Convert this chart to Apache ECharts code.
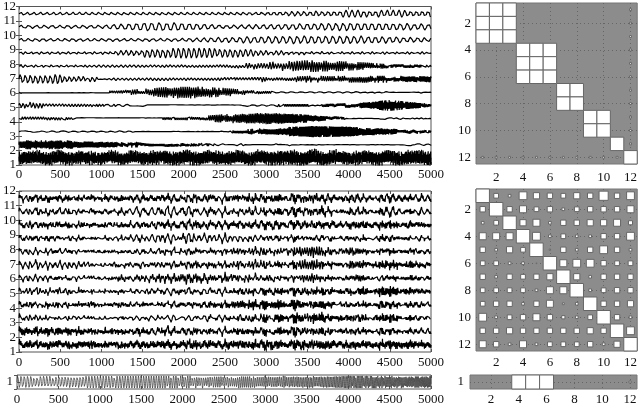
<!DOCTYPE html>
<html>
<head>
<meta charset="utf-8">
<script src="https://cdn.jsdelivr.net/npm/echarts@6/dist/echarts.min.js"></script>
<style>
html, body { margin: 0; padding: 0; background: #fff; }
#chart { width: 640px; height: 406px; }
</style>
</head>
<body>
<div id="chart"></div>
<script>
// axis values
const sampleMax = 5000;
const xTickStep = 500;
const traceLabels = [1, 2, 3, 4, 5, 6, 7, 8, 9, 10, 11, 12];
const hintonTicks = [2, 4, 6, 8, 10, 12];
const stripTicks = [1];

// envelope knots (sample index) and half amplitude of each source trace
const envAt = [0, 500, 1000, 1500, 2000, 2500, 3000, 3500, 4000, 4500, 5000];
const srcEnv = [
  [0.40, 0.42, 0.38, 0.40, 0.44, 0.40, 0.42, 0.45, 0.40, 0.42, 0.44], // 1 (noise)
  [0.34, 0.32, 0.26, 0.18, 0.12, 0.09, 0.07, 0.07, 0.07, 0.07, 0.07], // 2
  [0.06, 0.06, 0.06, 0.06, 0.06, 0.08, 0.25, 0.40, 0.35, 0.22, 0.12], // 3
  [0.12, 0.11, 0.10, 0.10, 0.10, 0.30, 0.45, 0.30, 0.08, 0.06, 0.06], // 4
  [0.26, 0.16, 0.09, 0.08, 0.08, 0.08, 0.08, 0.09, 0.16, 0.38, 0.12], // 5
  [0.08, 0.08, 0.08, 0.25, 0.45, 0.30, 0.08, 0.06, 0.06, 0.06, 0.06], // 6
  [0.36, 0.34, 0.14, 0.11, 0.11, 0.15, 0.22, 0.24, 0.24, 0.24, 0.24], // 7
  [0.10, 0.10, 0.10, 0.10, 0.10, 0.12, 0.28, 0.42, 0.32, 0.16, 0.09], // 8
  [0.10, 0.10, 0.10, 0.30, 0.40, 0.34, 0.20, 0.13, 0.10, 0.09, 0.09], // 9
  [0.11, 0.11, 0.11, 0.11, 0.12, 0.20, 0.27, 0.30, 0.30, 0.24, 0.16], // 10
  [0.12, 0.12, 0.12, 0.32, 0.30, 0.13, 0.18, 0.26, 0.30, 0.28, 0.22], // 11
  [0.11, 0.11, 0.11, 0.11, 0.11, 0.11, 0.13, 0.22, 0.25, 0.25, 0.25]  // 12
];
// period in samples at start and end of each source (row 1 is noise)
const srcPeriod = [
  null, [18, 12], [25, 12], [33, 10], [42, 10], [30, 20],
  [63, 14], [65, 15], [65, 60], [90, 85], [95, 85], [80, 70]
];
const noisePeriods = [3.7, 6.1, 9.7, 15.3, 27.1];
const noiseWeights = [0.30, 0.25, 0.20, 0.15, 0.10];

// bottom strip: one chirp
const chirpPeriod = [40, 11];
const chirpAmp = 0.44;

// hinton: dependency structure of sources (top right)
const hintonSrc = [
  [1, 1, 1, 0, 0, 0, 0, 0, 0, 0, 0, 0.14],
  [1, 1, 1, 0, 0, 0, 0, 0, 0, 0, 0, 0.14],
  [1, 1, 1, 0, 0, 0, 0, 0, 0, 0, 0, 0.14],
  [0, 0, 0, 1, 1, 1, 0, 0, 0, 0, 0, 0.14],
  [0, 0, 0, 1, 1, 1, 0, 0, 0, 0, 0, 0.14],
  [0, 0, 0, 1, 1, 1, 0, 0, 0, 0, 0, 0.14],
  [0, 0, 0, 0, 0, 0, 1, 1, 0, 0, 0, 0.14],
  [0, 0, 0, 0, 0, 0, 1, 1, 0, 0, 0, 0.14],
  [0, 0, 0, 0, 0, 0, 0, 0, 1, 1, 0, 0.14],
  [0, 0, 0, 0, 0, 0, 0, 0, 1, 1, 0, 0.14],
  [0, 0, 0, 0, 0, 0, 0, 0, 0, 0, 1, 0.14],
  [0.14, 0.14, 0.14, 0.14, 0.14, 0.14, 0.14, 0.14, 0.14, 0.14, 0.14, 1]
];
// hinton: mixing matrix (bottom right), square side as fraction of cell
const hintonMix = [
  [1.00, 0.35, 0.20, 0.58, 0.46, 0.40, 0.35, 0.46, 0.40, 0.68, 0.40, 0.58],
  [0.40, 1.00, 0.40, 0.52, 0.35, 0.40, 0.20, 0.35, 0.40, 0.40, 0.40, 0.52],
  [0.20, 0.35, 1.00, 0.46, 0.52, 0.20, 0.40, 0.40, 0.46, 0.46, 0.52, 0.30],
  [0.52, 0.52, 0.52, 1.00, 0.58, 0.20, 0.35, 0.20, 0.20, 0.40, 0.40, 0.58],
  [0.40, 0.20, 0.46, 0.35, 1.00, 0.10, 0.40, 0.20, 0.40, 0.58, 0.40, 0.20],
  [0.35, 0.35, 0.20, 0.20, 0.06, 1.00, 0.52, 0.58, 0.58, 0.40, 0.35, 0.35],
  [0.40, 0.20, 0.40, 0.35, 0.40, 0.46, 1.00, 0.46, 0.20, 0.40, 0.40, 0.40],
  [0.35, 0.35, 0.35, 0.35, 0.20, 0.52, 0.52, 1.00, 0.20, 0.35, 0.40, 0.40],
  [0.35, 0.40, 0.40, 0.20, 0.40, 0.52, 0.14, 0.20, 1.00, 0.40, 0.40, 0.46],
  [0.58, 0.20, 0.35, 0.40, 0.52, 0.40, 0.24, 0.20, 0.35, 1.00, 0.40, 0.20],
  [0.40, 0.40, 0.46, 0.40, 0.40, 0.40, 0.40, 0.40, 0.46, 0.40, 1.00, 0.58],
  [0.52, 0.40, 0.20, 0.52, 0.20, 0.35, 0.35, 0.35, 0.40, 0.20, 0.46, 1.00]
];
// hinton: subspace of the chirp (bottom strip)
const hintonStrip = [[0, 0, 0, 1, 1, 1, 0, 0, 0, 0, 0, 0.14]];

const mixPeak = 0.46;

// ---------- build traces ----------
function envValue(knots, t) {
  const i = Math.min(Math.floor(t / xTickStep), envAt.length - 2);
  const f = (t - envAt[i]) / (envAt[i + 1] - envAt[i]);
  return knots[i] * (1 - f) + knots[i + 1] * f;
}

function toneTrace(env, per) {
  const out = [];
  let ph = 0;
  for (let t = 0; t <= sampleMax; t++) {
    out.push(envValue(env, t) * Math.sin(ph));
    const p = per[0] + (per[1] - per[0]) * t / sampleMax;
    ph += 2 * Math.PI / p;
  }
  return out;
}

function noiseTrace(env) {
  const out = [];
  for (let t = 0; t <= sampleMax; t++) {
    let v = 0;
    noisePeriods.forEach((p, k) => { v += noiseWeights[k] * Math.sin(2 * Math.PI * t / p + k * 1.7); });
    out.push(envValue(env, t) * v / 0.6);
  }
  return out;
}

const sources = srcEnv.map((env, i) => srcPeriod[i] ? toneTrace(env, srcPeriod[i]) : noiseTrace(env));

const mixed = hintonMix.map(row => {
  const out = new Array(sampleMax + 1).fill(0);
  row.forEach((w, c) => { const s = sources[c]; for (let t = 0; t <= sampleMax; t++) out[t] += w * s[t]; });
  let m = 0;
  out.forEach(v => { m = Math.max(m, Math.abs(v)); });
  return out.map(v => v * mixPeak / m);
});

const chirp = toneTrace(envAt.map(() => chirpAmp), chirpPeriod);

function baseline(k) { return 1.5 + (k - 1) * 10 / 11; }

// ---------- axes ----------
const labelFont = {
  fontFamily: '"Liberation Serif", "DejaVu Serif", serif',
  fontSize: 13, color: '#111',
  formatter: v => String(v)
};

function signalX(grid, margin) {
  return {
    type: 'value', gridIndex: grid, min: 0, max: sampleMax, interval: xTickStep,
    axisLine: { show: false }, splitLine: { show: false },
    axisTick: { inside: true, length: 3, lineStyle: { color: '#555' } },
    axisLabel: Object.assign({ margin: margin }, labelFont)
  };
}
function mirrorX(grid) {
  return {
    type: 'value', gridIndex: grid, position: 'top', min: 0, max: sampleMax, interval: xTickStep,
    axisLine: { show: false }, splitLine: { show: false }, axisLabel: { show: false },
    axisTick: { inside: true, length: 3, lineStyle: { color: '#555' } }
  };
}
function signalY(grid) {
  return {
    type: 'value', gridIndex: grid, min: 1, max: 12, interval: 1,
    axisLine: { show: false }, splitLine: { show: false },
    axisTick: { inside: true, length: 3, lineStyle: { color: '#555' } },
    axisLabel: Object.assign({ margin: 3 }, labelFont)
  };
}
function mirrorY(grid, min, max, interval) {
  return {
    type: 'value', gridIndex: grid, position: 'right', min: min, max: max, interval: interval,
    axisLine: { show: false }, splitLine: { show: false }, axisLabel: { show: false },
    axisTick: { inside: true, length: 3, lineStyle: { color: '#555' } }
  };
}
function hintonAxis(grid, dim, ticks, min, max, margin) {
  const ax = {
    type: 'value', gridIndex: grid, min: min, max: max,
    axisLine: { show: false },
    axisTick: { show: false, customValues: ticks },
    axisLabel: Object.assign({ margin: margin, customValues: ticks }, labelFont),
    splitLine: { show: true, lineStyle: { color: '#666', type: [1, 3], width: 1 } }
  };
  if (dim === 'y') ax.inverse = true;
  return ax;
}

const xAxis = [
  signalX(0, 3),
  signalX(1, 4),
  signalX(2, 4),
  hintonAxis(3, 'x', hintonTicks, 0.5, 12.5, 7),
  hintonAxis(4, 'x', hintonTicks, 0.5, 12.5, 5),
  hintonAxis(5, 'x', hintonTicks, 0.5, 12.5, 4),
  mirrorX(0), mirrorX(1), mirrorX(2)
];
const yAxis = [
  signalY(0),
  signalY(1),
  {
    type: 'value', gridIndex: 2, min: 0.5, max: 1.5,
    axisLine: { show: false }, splitLine: { show: false },
    axisTick: { inside: true, length: 3, customValues: stripTicks, lineStyle: { color: '#555' } },
    axisLabel: Object.assign({ margin: 4, customValues: stripTicks }, labelFont)
  },
  hintonAxis(3, 'y', hintonTicks, 0.5, 12.5, 5),
  hintonAxis(4, 'y', hintonTicks, 0.5, 12.5, 5),
  hintonAxis(5, 'y', stripTicks, 0.5, 1.5, 6),
  mirrorY(0, 1, 12, 1), mirrorY(1, 1, 12, 1), mirrorY(2, 0.5, 1.5, 1)
];

const frame = { show: true, borderColor: '#555', borderWidth: 1, backgroundColor: '#fff' };
const hintonFrame = { show: true, borderColor: '#777', borderWidth: 1, backgroundColor: '#8c8c8c' };
const grid = [
  Object.assign({ left: 17, top: 3, width: 414, height: 162 }, frame),
  Object.assign({ left: 17, top: 191, width: 414, height: 161 }, frame),
  Object.assign({ left: 17, top: 375, width: 414, height: 16 }, frame),
  Object.assign({ left: 476, top: 3, width: 162, height: 161 }, hintonFrame),
  Object.assign({ left: 476, top: 189, width: 162, height: 162 }, hintonFrame),
  Object.assign({ left: 470, top: 375, width: 167, height: 16 }, hintonFrame)
];

// ---------- series ----------
function lineSeries(axis, values, base, color, width) {
  const data = values.map((v, t) => [t, base + v]);
  return {
    type: 'line', xAxisIndex: axis, yAxisIndex: axis, data: data,
    showSymbol: false, silent: true, animation: false, sampling: false,
    lineStyle: { color: color, width: width }
  };
}

function hintonSeries(axis, mat) {
  const data = [];
  mat.forEach((row, r) => row.forEach((v, c) => { if (v > 0) data.push([c + 1, r + 1, v]); }));
  return {
    type: 'custom', xAxisIndex: axis, yAxisIndex: axis, data: data, silent: true, animation: false,
    encode: { x: 0, y: 1 },
    renderItem: function (params, api) {
      const p = api.coord([api.value(0), api.value(1)]);
      const s = api.size([1, 1]);
      const v = api.value(2);
      const w = s[0] * v, h = s[1] * v;
      return {
        type: 'rect',
        shape: { x: p[0] - w / 2, y: p[1] - h / 2, width: w, height: h },
        style: { fill: '#fff', stroke: '#666', lineWidth: 1 }
      };
    }
  };
}

const series = [];
sources.forEach((s, i) => series.push(lineSeries(0, s, baseline(traceLabels[i]), '#000', 1.2)));
mixed.forEach((s, i) => series.push(lineSeries(1, s, baseline(traceLabels[i]), '#000', 1.2)));
series.push(lineSeries(2, chirp, 1, '#444', 0.8));
series.push(hintonSeries(3, hintonSrc));
series.push(hintonSeries(4, hintonMix));
series.push(hintonSeries(5, hintonStrip));

const chart = echarts.init(document.getElementById('chart'));
chart.setOption({
  animation: false,
  grid: grid,
  xAxis: xAxis,
  yAxis: yAxis,
  series: series
});
</script>
</body>
</html>
